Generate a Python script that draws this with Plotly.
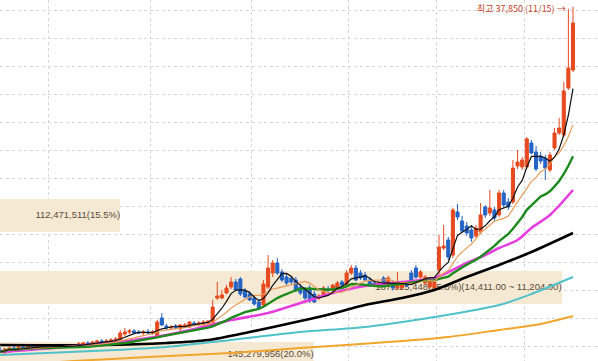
import plotly.graph_objects as go
import pandas as pd

# ---------------- data ----------------
days = list(range(125))

opens = [7205, 6935, 7115, 7380, 7205, 7470, 7380, 7560, 7470, 7560,
         7470, 7380, 7560, 7470, 7560, 7470, 7560, 7650, 7740, 7830,
         7740, 7915, 8005, 7915, 8005, 8095, 8095, 8630, 8810, 8900,
         8810, 8720, 8810, 8720, 8455, 10060, 9345, 9170, 9255, 9080,
         9345, 9255, 9615, 9525, 9525, 9615, 9615, 11845, 11845, 12295,
         12830, 13275, 13545, 12470, 12205, 11845, 11490, 11220, 12830, 14080,
         14970, 14170, 13720, 13630, 13455, 12830, 12560, 12740, 12205, 11845,
         12115, 12650, 12560, 12740, 13275, 13005, 14080, 14525, 14080, 13900,
         13455, 13185, 13005, 13630, 13005, 13185, 12740, 12740, 13095, 14080,
         14525, 13720, 13185, 12830, 12740, 14345, 16310, 17025, 15685, 19525,
         18720, 18275, 17920, 17380, 17740, 19970, 19435, 19705, 19260, 21220,
         20420, 20420, 23635, 23545, 23545, 25690, 24885, 24525, 24345, 23275,
         25240, 26580, 26400, 30600, 32205]

highs = [7470, 7380, 7470, 7560, 7650, 7650, 7740, 7740, 7650, 7740,
         7650, 7650, 7740, 7650, 7740, 7650, 7740, 7915, 7915, 8005,
         8005, 8095, 8185, 8185, 8275, 8365, 8990, 9170, 9080, 9080,
         8990, 8990, 9080, 8990, 9880, 10505, 9525, 9435, 9525, 9525,
         9615, 9790, 9790, 9790, 9880, 9880, 11670, 13275, 12560, 13005,
         13720, 13545, 13720, 12740, 12470, 12025, 11760, 13455, 15685, 15240,
         15420, 14435, 13990, 13810, 13720, 13095, 12830, 13005, 12470, 12205,
         12920, 12920, 13095, 13365, 13455, 14345, 14795, 14795, 14345, 14170,
         13720, 13455, 13365, 13810, 13810, 13455, 14170, 13365, 13365, 14345,
         14795, 14345, 13900, 13630, 13545, 17470, 18365, 17295, 19885, 20240,
         19170, 18630, 18365, 18365, 20330, 20150, 21490, 19970, 21490, 21490,
         20775, 24170, 25060, 24435, 26220, 25955, 25420, 24885, 24615, 24885,
         27025, 27920, 31135, 37650, 37850]

lows = [6935, 6845, 6935, 7115, 7115, 7290, 7290, 7380, 7290, 7380,
        7290, 7290, 7380, 7290, 7380, 7380, 7380, 7380, 7560, 7650,
        7650, 7740, 7830, 7830, 7915, 7915, 8005, 8455, 8630, 8630,
        8630, 8545, 8630, 8545, 8365, 9345, 8990, 8990, 9080, 8900,
        9170, 9170, 9345, 9345, 9345, 9435, 9525, 11670, 11760, 12205,
        12650, 12470, 12025, 11845, 11580, 11130, 10775, 11040, 12650, 13720,
        13900, 13275, 13005, 13095, 12385, 12115, 11670, 11400, 11400, 11670,
        12025, 12385, 12385, 12560, 12920, 12920, 13900, 13365, 13455, 13365,
        12830, 12830, 12740, 13005, 12830, 12560, 12560, 12650, 12830, 13095,
        13545, 13545, 13005, 12650, 12560, 13455, 16130, 15240, 15420, 18810,
        17650, 17380, 16850, 17205, 17560, 18990, 19170, 18630, 19080, 19885,
        19705, 20240, 23365, 23275, 23365, 24705, 23185, 23810, 22380, 23095,
        25060, 26400, 26220, 30420, 32025]

closes = [7025, 7290, 7380, 7205, 7470, 7380, 7560, 7470, 7560, 7470,
          7380, 7560, 7470, 7560, 7470, 7560, 7650, 7740, 7830, 7740,
          7915, 8005, 7915, 8005, 8095, 8185, 8720, 8810, 8900, 8720,
          8720, 8810, 8720, 8810, 9705, 9435, 9170, 9255, 9170, 9435,
          9435, 9705, 9525, 9615, 9705, 9790, 11040, 12025, 12115, 12740,
          13275, 12560, 12205, 11935, 11670, 11310, 10955, 13095, 14525, 14970,
          14080, 13455, 13185, 13275, 12560, 12295, 11845, 11580, 11490, 12025,
          12740, 12560, 13005, 13185, 13005, 14080, 14525, 13455, 13630, 13455,
          13005, 13005, 13185, 13185, 13630, 12740, 13185, 13095, 12920, 13275,
          13720, 14170, 13720, 13455, 13275, 16400, 16490, 15505, 19705, 19080,
          17830, 17650, 17205, 18095, 19260, 19260, 19885, 18990, 21220, 20150,
          19970, 23455, 23990, 24170, 26045, 24795, 23365, 24080, 23455, 24615,
          26580, 27025, 30330, 32380, 36400]

# long moving averages at sample days
ma60_days = [0, 14, 29, 36, 43, 50, 58, 65, 72, 79, 87, 94, 101, 105, 108, 112, 115, 119, 124]
ma60_vals = [7025, 7470, 8095, 8545, 9170, 9880, 10505, 11400, 12295, 12920, 13275, 13630,
             14970, 15685, 16310, 17025, 18095, 19260, 21490]

ma120_days = [0, 22, 36, 45, 54, 65, 72, 79, 87, 94, 101, 108, 115, 124]
ma120_vals = [7650, 7650, 7830, 8095, 8810, 9790, 10465, 11220, 11845, 12560, 13720, 14795, 15955, 17650]

ma240_days = [0, 25, 36, 50, 65, 79, 94, 108, 115, 124]
ma240_vals = [6755, 7205, 7470, 8095, 8810, 9255, 10150, 11220, 12205, 13720]

ma480_days = [0, 16, 32, 50, 65, 87, 97, 108, 117, 124]
ma480_vals = [5775, 6220, 6580, 6935, 7380, 8005, 8365, 8990, 9525, 10240]

month_first_day = [11, 33, 55, 76, 95, 114]

# price-by-volume profile
prof_low = [17618, 11204, 4790]
prof_high = [20825, 14411, 7997]
prof_vol = [112471511, 187325448, 145279956]
prof_pct = [15.5, 25.8, 20.0]

high_label = "최고 37,850 (11/15) →"

# ---------------- figure ----------------
RED = "#e64a1e"
BLUE = "#2563c6"
Y_MIN, Y_MAX = 6222, 38455

close_s = pd.Series(closes, dtype=float)
ma5 = close_s.rolling(5, min_periods=1).mean()
ma10 = close_s.rolling(10, min_periods=1).mean()
ma20 = close_s.rolling(20, min_periods=1).mean()

centers = [(lo + hi) / 2 for lo, hi in zip(prof_low, prof_high)]
thick = [(hi - lo) * 0.93 for lo, hi in zip(prof_low, prof_high)]
imax = prof_vol.index(max(prof_vol))
labels, label_pos = [], []
for k, (v, p) in enumerate(zip(prof_vol, prof_pct)):
    t = f"{v:,}({p:.1f}%)"
    if k == imax:
        t += f"({prof_high[k]:,.2f} ~ {prof_low[k]:,.2f})"
    labels.append(t)
    # keep the label of a bar that runs off the bottom inside the plot
    label_pos.append("top left" if prof_low[k] < Y_MIN else "middle left")

fig = go.Figure()

fig.add_trace(go.Bar(
    orientation="h", y=centers, x=prof_vol, width=thick,
    marker=dict(color="#f6e9d4", line=dict(width=0)),
    xaxis="x", yaxis="y", hoverinfo="skip",
))
fig.add_trace(go.Scatter(
    x=prof_vol, y=centers, mode="text", text=labels,
    textposition=label_pos,
    textfont=dict(family="Liberation Sans", size=9.5, color="#5b4a3a"),
    xaxis="x", yaxis="y", hoverinfo="skip",
))

def line(xs, ys, color, width, shape="linear"):
    fig.add_trace(go.Scatter(
        x=xs, y=ys, mode="lines",
        line=dict(color=color, width=width, shape=shape, smoothing=0.8) if shape == "spline"
        else dict(color=color, width=width),
        xaxis="x2", yaxis="y", hoverinfo="skip",
    ))

line(ma480_days, ma480_vals, "#f0a52c", 2.0, "spline")
line(ma240_days, ma240_vals, "#4fc2c9", 2.0, "spline")
line(ma120_days, ma120_vals, "#000000", 2.6, "spline")
line(ma60_days, ma60_vals, "#e63fe0", 2.6, "spline")
line(days, ma20, "#1c8a1c", 2.4)
line(days, ma10, "#e89c58", 1.2)

fig.add_trace(go.Candlestick(
    x=days, open=opens, high=highs, low=lows, close=closes,
    increasing=dict(line=dict(color=RED, width=1), fillcolor=RED),
    decreasing=dict(line=dict(color=BLUE, width=1), fillcolor=BLUE),
    whiskerwidth=0, xaxis="x2", yaxis="y", hoverinfo="skip",
))

line(days, ma5, "#111111", 1.2)

imx = highs.index(max(highs))
fig.add_annotation(
    x=days[imx] - 1.1, y=highs[imx], xref="x2", yref="y",
    text=high_label, showarrow=False, xanchor="right", yanchor="middle", yshift=-2,
    font=dict(family="Noto Sans CJK KR", size=9, color="#c4442c"),
)

grid = dict(showgrid=True, gridcolor="#d6d6d6", griddash="dot", gridwidth=1)
fig.update_layout(
    width=598, height=361, margin=dict(l=0, r=0, t=0, b=0),
    paper_bgcolor="white", plot_bgcolor="white", showlegend=False,
    bargap=0, boxgap=0.3, boxgroupgap=0.05, hovermode=False,
    xaxis=dict(range=[92.1e6, 193.5e6], visible=False, fixedrange=True),
    xaxis2=dict(overlaying="x", range=[-0.026, 129.41],
                tickvals=[d - 0.5 for d in month_first_day],
                showticklabels=False, ticks="", zeroline=False, showline=False,
                rangeslider=dict(visible=False), **grid),
    yaxis=dict(range=[Y_MIN, Y_MAX], tick0=0, dtick=2500, showticklabels=False,
               ticks="", zeroline=False, showline=False, **grid),
)

fig.write_html("out.html", config={"displayModeBar": False},
               post_script="document.body.style.margin='0';")
